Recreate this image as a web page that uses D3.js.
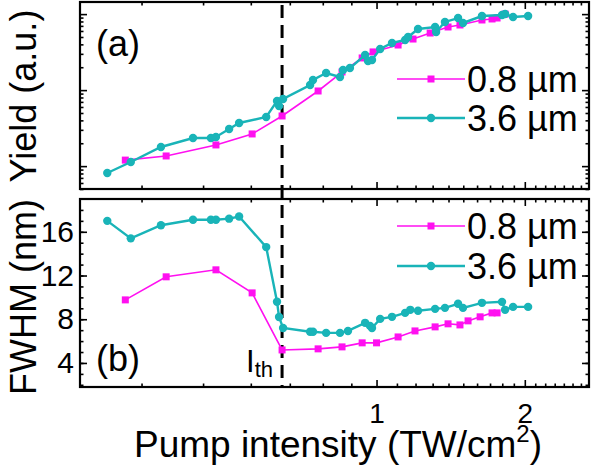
<!DOCTYPE html>
<html>
<head>
<meta charset="utf-8">
<script src="https://cdn.jsdelivr.net/npm/d3@7"></script>
<style>
  body { margin: 0; background: #fff; }
  svg { display: block; }
  text { font-family: "Liberation Sans", Arial, Helvetica, sans-serif; fill: #000; }
</style>
</head>
<body>
<svg id="chart" width="595" height="467"></svg>
<script>
// ---------- data ----------
const seriesNames = ["0.8 \u00b5m", "3.6 \u00b5m"];
const seriesColors = ["#ff10f0", "#19b4b8"];

// (a) yield (arbitrary units, log scale)
const yieldX08 = [0.309, 0.374, 0.472, 0.559, 0.643, 0.761, 0.851, 0.935, 0.984, 1.106, 1.186, 1.285, 1.397, 1.477, 1.637, 1.716, 1.757, 1.824];
const yield08  = [1.20, 1.36, 1.90, 2.65, 4.57, 9.74, 17.3, 26.5, 31.8, 39.2, 47.0, 56.4, 67.7, 71.9, 83.7, 86.3, 88.9, 100];
const yieldX36 = [0.284, 0.317, 0.365, 0.424, 0.461, 0.472, 0.502, 0.526, 0.597, 0.628, 0.634, 0.646, 0.733, 0.743, 0.790, 0.843, 0.855, 0.883, 0.948, 0.961, 0.979, 1.017, 1.075, 1.143, 1.159, 1.214, 1.315, 1.321, 1.377, 1.464, 1.498, 1.637, 1.798, 1.824, 1.893, 2.031];
const yield36  = [0.812, 1.133, 1.785, 2.345, 2.345, 2.417, 3.079, 3.693, 4.43, 7.19, 6.18, 7.64, 11.68, 13.6, 16.8, 14.9, 18.4, 19.5, 29.0, 24.2, 24.9, 34.8, 41.7, 45.7, 50.0, 63.7, 67.7, 58.2, 78.8, 88.9, 76.4, 94.4, 97.4, 100.4, 91.6, 94.4];

// (b) FWHM (nm)
const fwhmX08 = [0.309, 0.374, 0.472, 0.559, 0.643, 0.761, 0.851, 0.935, 1.0, 1.106, 1.197, 1.315, 1.397, 1.477, 1.534, 1.623, 1.716, 1.757];
const fwhm08  = [9.77, 11.88, 12.52, 10.41, 5.19, 5.29, 5.47, 5.84, 5.84, 6.38, 6.93, 7.30, 7.58, 7.48, 7.85, 8.22, 8.58, 8.58];
const fwhmX36 = [0.284, 0.317, 0.365, 0.424, 0.461, 0.472, 0.502, 0.526, 0.597, 0.628, 0.634, 0.646, 0.733, 0.743, 0.790, 0.843, 0.875, 0.948, 0.970, 0.979, 1.017, 1.075, 1.143, 1.171, 1.214, 1.315, 1.377, 1.464, 1.498, 1.637, 1.798, 1.824, 1.893, 2.031];
const fwhm36  = [17.0, 15.4, 16.6, 17.1, 17.1, 17.1, 17.2, 17.4, 14.6, 9.6, 8.2, 7.2, 6.85, 6.85, 6.75, 6.75, 6.93, 7.67, 7.39, 7.2, 8.03, 8.22, 8.58, 8.86, 8.77, 8.95, 9.04, 9.41, 9.04, 9.50, 9.59, 8.86, 9.13, 9.13];

const thresholdI = 0.643;

// ticks
const xMajorTicks = [1, 2];
const xMinorTicks = [3/9, 4/9, 5/9, 6/9, 7/9, 8/9, 1.1, 1.2, 1.3, 1.4, 1.5, 1.6, 1.7, 1.8, 1.9, 2.1, 2.2, 2.3, 2.4, 2.5, 2.6];
const yieldMajorTicks = [1, 10, 100];
const fwhmMajorTicks = [4, 8, 12, 16];
const fwhmMinorTicks = d3.range(2, 19, 1);

// ---------- layout ----------
const svg = d3.select("#chart");
const L = 80, R = 589;
const pA = { top: 2, bottom: 189 };
const pB = { top: 199, bottom: 387 };
const FONT = 36, TICKFONT = 30, XTICKFONT = 28;

const x = d3.scaleLog().domain([0.25, 2.7]).range([L, R]);
const yA = d3.scaleLog().domain([0.5, 140]).range([189, 3]);
const yB = d3.scaleLinear().domain([1.8, 19]).range([pB.bottom, pB.top]);

const yieldMinorTicks = yA.ticks().filter(v => yieldMajorTicks.indexOf(v) < 0);

function drawTicks(g, axisFn, scale, values, len, transform) {
  g.append("g").attr("transform", transform)
    .call(axisFn(scale).tickValues(values).tickSize(-len).tickFormat(""))
    .call(s => s.select(".domain").remove())
    .call(s => s.selectAll(".tick line").attr("stroke", "#000").attr("stroke-width", 1.6));
}

function panelAxes(yScale, majY, minY, p) {
  const g = svg.append("g");
  drawTicks(g, d3.axisBottom, x, xMinorTicks, 3.5, `translate(0,${p.bottom})`);
  drawTicks(g, d3.axisBottom, x, xMajorTicks, 7, `translate(0,${p.bottom})`);
  drawTicks(g, d3.axisTop, x, xMinorTicks, 3.5, `translate(0,${p.top})`);
  drawTicks(g, d3.axisTop, x, xMajorTicks, 7, `translate(0,${p.top})`);
  drawTicks(g, d3.axisLeft, yScale, minY, 3.5, `translate(${L},0)`);
  drawTicks(g, d3.axisLeft, yScale, majY, 7, `translate(${L},0)`);
  drawTicks(g, d3.axisRight, yScale, minY, 3.5, `translate(${R},0)`);
  drawTicks(g, d3.axisRight, yScale, majY, 7, `translate(${R},0)`);
  g.append("rect").attr("x", L).attr("y", p.top).attr("width", R - L).attr("height", p.bottom - p.top)
    .attr("fill", "none").attr("stroke", "#000").attr("stroke-width", 2.2);
}

panelAxes(yA, yieldMajorTicks, yieldMinorTicks, pA);
panelAxes(yB, fwhmMajorTicks, fwhmMinorTicks, pB);

// FWHM tick labels
svg.append("g").attr("transform", `translate(${L},0)`)
  .call(d3.axisLeft(yB).tickValues(fwhmMajorTicks).tickSize(0).tickPadding(6).tickFormat(d3.format("d")))
  .call(s => s.select(".domain").remove())
  .call(s => s.selectAll("text").style("font-size", TICKFONT + "px").style("font-family", "'Liberation Sans', Arial, sans-serif"));

// x tick labels
svg.append("g").attr("transform", `translate(0,${pB.bottom})`)
  .call(d3.axisBottom(x).tickValues(xMajorTicks).tickSize(0).tickPadding(16).tickFormat(d3.format("d")))
  .call(s => s.select(".domain").remove())
  .call(s => s.selectAll("text").style("font-size", XTICKFONT + "px").style("font-family", "'Liberation Sans', Arial, sans-serif"));

// threshold dashed line
svg.append("line")
  .attr("x1", x(thresholdI)).attr("x2", x(thresholdI))
  .attr("y1", pA.top + 3).attr("y2", pB.bottom)
  .attr("stroke", "#000").attr("stroke-width", 3).attr("stroke-dasharray", "13,7");

// series
function drawSeries(xs, ys, yScale, color, kind, lw) {
  const pts = xs.map((v, i) => [v, ys[i]]);
  const line = d3.line().x(d => x(d[0])).y(d => yScale(d[1]));
  svg.append("path").datum(pts).attr("d", line)
    .attr("fill", "none").attr("stroke", color).attr("stroke-width", lw);
  const g = svg.append("g");
  if (kind === "square") {
    g.selectAll("rect").data(pts).join("rect")
      .attr("x", d => x(d[0]) - 3.5).attr("y", d => yScale(d[1]) - 3.5)
      .attr("width", 7).attr("height", 7).attr("fill", color);
  } else {
    g.selectAll("circle").data(pts).join("circle")
      .attr("cx", d => x(d[0])).attr("cy", d => yScale(d[1]))
      .attr("r", 4.2).attr("fill", color);
  }
}

drawSeries(yieldX08, yield08, yA, seriesColors[0], "square", 1.6);
drawSeries(yieldX36, yield36, yA, seriesColors[1], "circle", 2.4);
drawSeries(fwhmX08, fwhm08, yB, seriesColors[0], "square", 1.6);
drawSeries(fwhmX36, fwhm36, yB, seriesColors[1], "circle", 2.4);

// legends
function legend(y1, y2) {
  [[y1, 0, "square", 1.6], [y2, 1, "circle", 2.4]].forEach(([yy, i, kind, lw]) => {
    const g = svg.append("g");
    g.append("line").attr("x1", 397).attr("x2", 465).attr("y1", yy).attr("y2", yy)
      .attr("stroke", seriesColors[i]).attr("stroke-width", lw);
    if (kind === "square") {
      g.append("rect").attr("x", 431 - 3.5).attr("y", yy - 3.5).attr("width", 7).attr("height", 7).attr("fill", seriesColors[i]);
    } else {
      g.append("circle").attr("cx", 431).attr("cy", yy).attr("r", 4.2).attr("fill", seriesColors[i]);
    }
    g.append("text").attr("x", 467).attr("y", yy + 13).style("font-size", FONT + "px").text(seriesNames[i]);
  });
}
legend(79, 118);
legend(226, 266);

// panel letters
svg.append("text").attr("x", 96).attr("y", 56).style("font-size", FONT + "px").text("(a)");
svg.append("text").attr("x", 96).attr("y", 371).style("font-size", FONT + "px").text("(b)");

// I_th label
const ith = svg.append("text").attr("x", 246).attr("y", 372).style("font-size", "31px");
ith.append("tspan").text("I");
ith.append("tspan").attr("dy", 5).style("font-size", "22px").text("th");

// axis titles
svg.append("text").attr("transform", `translate(36,96) rotate(-90)`)
  .attr("text-anchor", "middle").style("font-size", FONT + "px").text("Yield (a.u.)");
svg.append("text").attr("transform", `translate(36,297) rotate(-90)`)
  .attr("text-anchor", "middle").style("font-size", FONT + "px").text("FWHM (nm)");

const xt = svg.append("text").attr("x", 338).attr("y", 457).attr("text-anchor", "middle").style("font-size", "37px");
xt.append("tspan").text("Pump intensity (TW/cm");
xt.append("tspan").attr("dy", -15).style("font-size", "24px").text("2");
xt.append("tspan").attr("dy", 15).text(")");
</script>
</body>
</html>
